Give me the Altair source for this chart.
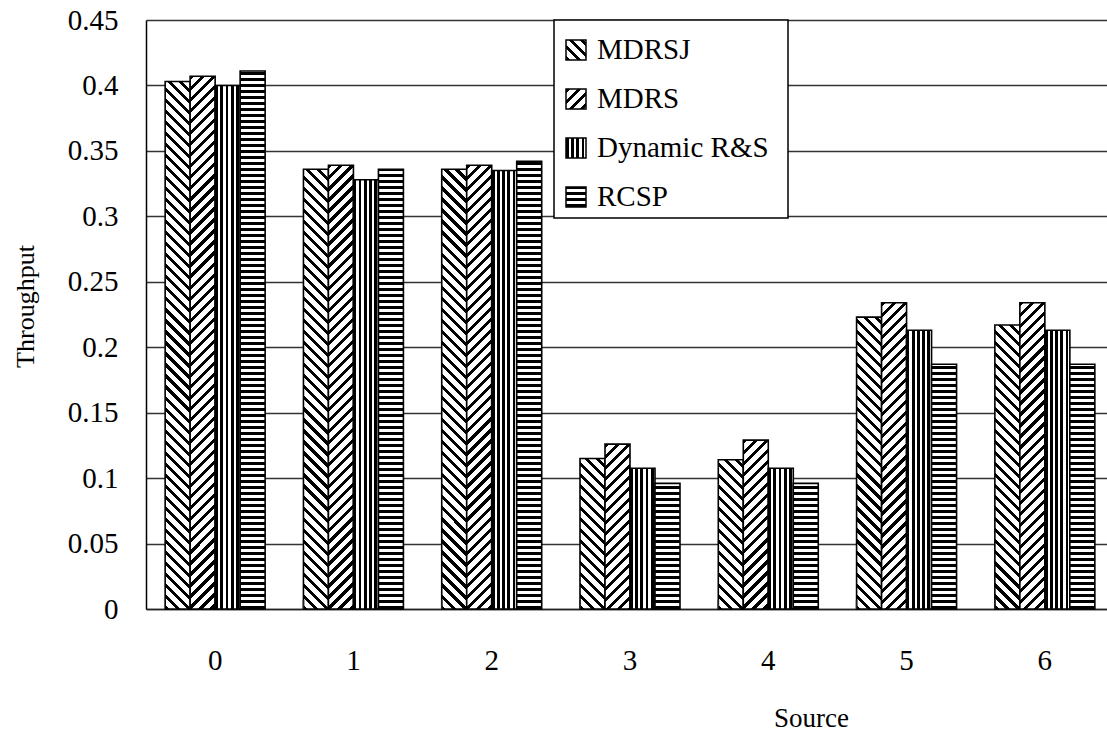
import math
import altair as alt

# ---------------- data ----------------
SOURCES = [0, 1, 2, 3, 4, 5, 6]
SERIES = ["MDRSJ", "MDRS", "Dynamic R&S", "RCSP"]
MDRSJ = [0.403, 0.336, 0.336, 0.115, 0.114, 0.223, 0.217]
MDRS = [0.407, 0.339, 0.339, 0.126, 0.129, 0.234, 0.234]
DYNAMIC_RS = [0.400, 0.328, 0.335, 0.1075, 0.1075, 0.213, 0.213]
RCSP = [0.411, 0.336, 0.342, 0.096, 0.096, 0.187, 0.187]
Y_TICKS = [0, 0.05, 0.1, 0.15, 0.2, 0.25, 0.3, 0.35, 0.4, 0.45]

# ---------------- layout / style ----------------
PLOT_W, PLOT_H = 961, 589
X_RANGE = 968           # band scale range (last band runs past the window edge)
Y_MAX = 0.45
BAR_W = 25.0            # px, width of one bar (band 100 px / 4 series)
ICON = 20.0
TICK_LEN = 0.0068       # inner tick length in data units (~9 px)
FONT = "Liberation Serif"

P_DIAG, B_DIAG = 7.8, 3.0
P_VERT, B_VERT = 5.2, 2.8
P_HORZ, B_HORZ = 6.0, 3.0

HATCH = {"MDRSJ": "back", "MDRS": "fwd", "Dynamic R&S": "vert", "RCSP": "horz"}


def stripe_stops(length, period, black):
    stops = [{"offset": 0, "color": "#ffffff"}]
    pos = 0.0
    while pos < length:
        a = round(max(pos, 0.0) / length, 5)
        b = round(min(pos + black, length) / length, 5)
        if b > a:
            stops += [
                {"offset": a, "color": "#ffffff"},
                {"offset": a, "color": "#000000"},
                {"offset": b, "color": "#000000"},
                {"offset": b, "color": "#ffffff"},
            ]
        pos += period
    stops.append({"offset": 1, "color": "#ffffff"})
    return stops


def hatch(kind, w, h):
    if kind in ("back", "fwd"):
        k = (w + h) / (w * w + h * h)
        d = (w + h) / math.sqrt(2)
        stops = stripe_stops(d, P_DIAG, B_DIAG)
        if kind == "back":
            return {"gradient": "linear", "x1": 0, "y1": 1,
                    "x2": k * w, "y2": 1 - k * h, "stops": stops}
        return {"gradient": "linear", "x1": 0, "y1": 0,
                "x2": k * w, "y2": k * h, "stops": stops}
    if kind == "vert":
        return {"gradient": "linear", "x1": 0, "y1": 0, "x2": 1, "y2": 0,
                "stops": stripe_stops(w, P_VERT, B_VERT)}
    return {"gradient": "linear", "x1": 0, "y1": 1, "x2": 0, "y2": 0,
            "stops": stripe_stops(h, P_HORZ, B_HORZ)}


values_by_series = dict(zip(SERIES, [MDRSJ, MDRS, DYNAMIC_RS, RCSP]))
bar_rows = []
for s in SERIES:
    for src, v in zip(SOURCES, values_by_series[s]):
        h = v / Y_MAX * PLOT_H
        bar_rows.append({"source": src, "series": s, "value": v,
                         "grad": hatch(HATCH[s], BAR_W, h)})

legend_rows = [{"series": s, "grad": hatch(HATCH[s], ICON, ICON)} for s in SERIES]
tick_rows = [{"source": s} for s in SOURCES[1:]]

x_scale = alt.Scale(range=[0, X_RANGE], paddingInner=0.277, paddingOuter=0.1385)

bars = alt.Chart(alt.Data(values=bar_rows)).mark_bar(
    stroke="#000000", strokeWidth=1.6
).encode(
    x=alt.X("source:N", scale=x_scale, sort=SOURCES, axis=alt.Axis(
        title="Source", labelAngle=0, labelPadding=37, ticks=False, tickSize=0,
        domainColor="#222222", domainWidth=1.5, grid=False,
        labelFont=FONT, labelFontSize=29, labelColor="#000000",
        titleFont=FONT, titleFontSize=27, titleFontWeight="normal", titleColor="#000000",
        titleX=665, titleY=109, titleAlign="center", titleBaseline="middle")),
    xOffset=alt.XOffset("series:N", sort=SERIES,
                        scale=alt.Scale(domain=SERIES, paddingInner=0, paddingOuter=0)),
    y=alt.Y("value:Q", stack=None,
            scale=alt.Scale(domain=[0, Y_MAX], nice=False, zero=True),
            axis=alt.Axis(
                title="Throughput", values=Y_TICKS, format="~g",
                ticks=False, tickSize=0, labelPadding=28,
                grid=True, gridColor="#333333", gridWidth=1.5,
                domainColor="#000000", domainWidth=1.5,
                labelFont=FONT, labelFontSize=29, labelColor="#000000",
                titleFont=FONT, titleFontSize=26, titleFontWeight="normal", titleColor="#000000",
                titleAngle=270, titleX=-121, titleY=286,
                titleAlign="center", titleBaseline="middle")),
    fill=alt.Fill("grad:N", scale=None, legend=None),
)

ticks = alt.Chart(alt.Data(values=tick_rows)).mark_rule(
    color="#222222", strokeWidth=1.5
).encode(
    x=alt.X("source:N", bandPosition=0, scale=x_scale, sort=SOURCES),
    y=alt.datum(0),
    y2=alt.datum(TICK_LEN),
)

box = alt.Chart(alt.Data(values=[{"k": 1}])).mark_rect(
    fill="#ffffff", stroke="#000000", strokeWidth=1.5
).encode(
    x=alt.value(408), x2=alt.value(642), y=alt.value(0), y2=alt.value(198)
)

leg_y = alt.Y("series:N", sort=SERIES, axis=None,
              scale=alt.Scale(domain=SERIES, range=[30, 177], padding=0))

icons = alt.Chart(alt.Data(values=legend_rows)).mark_square(
    size=ICON * ICON, stroke="#000000", strokeWidth=1.5, opacity=1
).encode(
    x=alt.value(430),
    y=leg_y,
    fill=alt.Fill("grad:N", scale=None, legend=None),
)

texts = alt.Chart(alt.Data(values=legend_rows)).mark_text(
    align="left", baseline="middle", font=FONT, fontSize=29, color="#000000"
).encode(
    x=alt.value(451),
    y=leg_y,
    text="series:N",
)

main = alt.layer(bars, ticks)
legend = alt.layer(box, icons, texts)

chart = alt.layer(main, legend).resolve_scale(y="independent").properties(
    width=PLOT_W,
    height=PLOT_H,
    autosize=alt.AutoSizeParams(type="none"),
    padding={"left": 146, "top": 20, "right": 0, "bottom": 131},
    background="#ffffff",
).configure_view(strokeWidth=0)

chart.save("out.html", embed_options={"renderer": "svg", "actions": False})
